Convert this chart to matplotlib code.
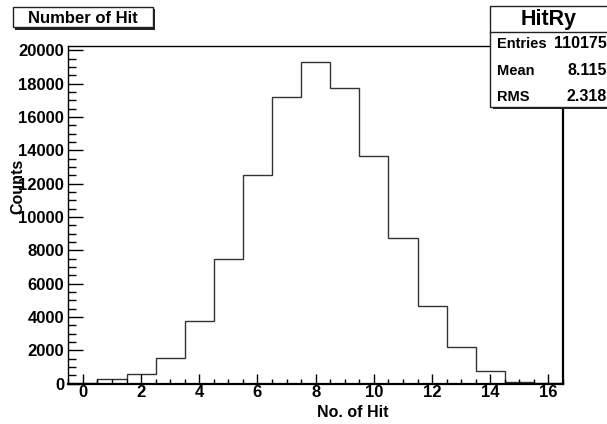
import numpy as np
import matplotlib
matplotlib.use("Agg")
import matplotlib.pyplot as plt
from matplotlib.patches import Rectangle
from matplotlib.lines import Line2D

# ---- data ----
hit_bins = list(range(17))
counts = [60, 260, 560, 1560, 3780, 7500, 12500, 17180, 19300, 17770,
          13640, 8760, 4680, 2180, 760, 120, 20]
x_ticks = [0, 2, 4, 6, 8, 10, 12, 14, 16]
y_ticks = [0, 2000, 4000, 6000, 8000, 10000, 12000, 14000, 16000, 18000, 20000]
title_text = "Number of Hit"
stat_name = "HitRy"
stat_labels = ["Entries", "Mean", "RMS"]
stat_values = ["110175", "8.115", "2.318"]
x_title = "No. of Hit"
y_title = "Counts"

W, H = 607, 424
plt.rcParams['font.family'] = ['Liberation Sans', 'DejaVu Sans']
plt.rcParams['font.weight'] = 'bold'

fig = plt.figure(figsize=(W / 100, H / 100), dpi=100)

def fx(x):
    return x / W

def fy(y):
    return 1 - y / H

# axes frame in pixels
L, R, T, B = 68.3, 563, 46, 383.5
ax = fig.add_axes([fx(L), fy(B), fx(R) - fx(L), fy(T) - fy(B)])

edges = np.array(hit_bins + [hit_bins[-1] + 1]) - 0.5
ax.stairs(counts, edges, fill=False, color='#333333', linewidth=1.0)

ax.set_xlim(-0.5, 16.5)
ax.set_ylim(0, 20265)
ax.set_xticks(x_ticks)
ax.set_yticks(y_ticks)
ax.set_xticks(np.arange(-0.5, 16.6, 0.5), minor=True)
ax.set_yticks(np.arange(0, 20001, 500), minor=True)
ax.tick_params(axis='x', which='major', direction='in', length=7, width=1, pad=1.0, labelsize=12)
ax.tick_params(axis='x', which='minor', direction='in', length=3.5, width=1)
ax.tick_params(axis='y', which='major', direction='in', length=11, width=1, pad=3.0, labelsize=12)
ax.tick_params(axis='y', which='minor', direction='in', length=5.5, width=1)
for lab in ax.get_xticklabels() + ax.get_yticklabels():
    lab.set_fontweight('bold')

for s in ['left', 'top']:
    ax.spines[s].set_linewidth(1.0)
for s in ['right', 'bottom']:
    ax.spines[s].set_linewidth(1.6)

# axis titles
fig.text(fx(352.5), fy(417.3), x_title, ha='center', va='baseline',
         fontsize=11.5, fontweight='bold')
fig.text(fx(17.5), fy(186.7), y_title, ha='center', va='center', rotation=90,
         fontsize=11.5, fontweight='bold')

# title box with shadow
tx0, tx1, ty0, ty1 = 12.7, 153, 6.5, 27
sh = 2.5
fig.add_artist(Rectangle((fx(tx0 + sh), fy(ty1 + sh)), fx(tx1 - tx0), fy(ty0) - fy(ty1),
                         transform=fig.transFigure, facecolor='#222222', edgecolor='none', zorder=5))
fig.add_artist(Rectangle((fx(tx0), fy(ty1)), fx(tx1 - tx0), fy(ty0) - fy(ty1),
                         transform=fig.transFigure, facecolor='white', edgecolor='#222222',
                         linewidth=1.0, zorder=6))
fig.text(fx(82.5), fy(23.3), title_text, ha='center', va='baseline',
         fontsize=12, fontweight='bold', zorder=7)

# stats box with shadow
sx0, sx1, sy0, sy1 = 490, 612, 5.7, 106.5
fig.add_artist(Rectangle((fx(sx0 + sh), fy(sy1 + sh)), fx(sx1 - sx0), fy(sy0) - fy(sy1),
                         transform=fig.transFigure, facecolor='#222222', edgecolor='none', zorder=5))
fig.add_artist(Rectangle((fx(sx0), fy(sy1)), fx(sx1 - sx0), fy(sy0) - fy(sy1),
                         transform=fig.transFigure, facecolor='white', edgecolor='#222222',
                         linewidth=1.0, zorder=6))
fig.add_artist(Line2D([fx(sx0), fx(sx1)], [fy(31.7), fy(31.7)], transform=fig.transFigure,
                      color='#222222', linewidth=1.0, zorder=7))
fig.text(fx(548.3), fy(25), stat_name, ha='center', va='baseline',
         fontsize=15.5, fontweight='bold', zorder=7)
row_baselines = [48.3, 75, 100.7]
for lab, val, yb in zip(stat_labels, stat_values, row_baselines):
    fig.text(fx(496.7), fy(yb), lab, ha='left', va='baseline',
             fontsize=10.5, fontweight='bold', zorder=7)
    fig.text(fx(606.5), fy(yb), val, ha='right', va='baseline',
             fontsize=11.5, fontweight='bold', zorder=7)

fig.savefig("out.png", dpi=100)
